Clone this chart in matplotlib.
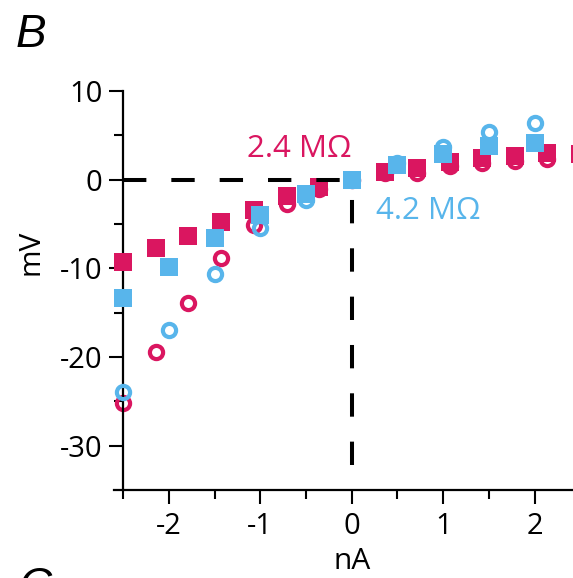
import numpy as np
import matplotlib.pyplot as plt
from matplotlib.transforms import blended_transform_factory

plt.rcParams['font.family'] = ['Open Sans', 'DejaVu Sans']
plt.rcParams['axes.unicode_minus'] = False

# current steps (nA)
x_mag = [-2.5, -2.14, -1.79, -1.43, -1.07, -0.71, -0.36, 0.0, 0.36, 0.71, 1.07, 1.43, 1.79, 2.14, 2.5]
x_blue = [-2.5, -2.0, -1.5, -1.0, -0.5, 0.0, 0.5, 1.0, 1.5, 2.0]

# voltage responses (mV)
mag_square = [-9.3, -7.75, -6.4, -4.8, -3.4, -1.8, -0.8, 0.0, 0.9, 1.35, 2.0, 2.5, 2.7, 3.0, 2.9]
mag_circle = [-25.2, -19.4, -13.9, -8.8, -5.1, -2.7, -1.0, 0.0, 0.7, 0.8, 1.5, 1.9, 2.1, 2.3, 2.5]
blue_square = [-13.4, -9.8, -6.55, -4.0, -1.6, 0.0, 1.7, 2.9, 3.85, 4.1]
blue_circle = [-24.0, -16.9, -10.6, -5.5, -2.3, 0.0, 1.9, 3.7, 5.4, 6.4]

labels = ["2.4 M\u03a9", "4.2 M\u03a9"]

magenta = '#DA1660'
blue = '#58B5EB'

fig = plt.figure(figsize=(5.73, 5.78), dpi=100)
ax = fig.add_axes([114 / 573, 1 - 490 / 578, 459 / 573, 399 / 578])

ax.plot(x_mag, mag_circle, 'o', ms=9.5, mfc='none', mec=magenta, mew=3.0, clip_on=False, zorder=2)
ax.plot(x_mag, mag_square, 's', ms=13.3, color=magenta, mew=0, clip_on=False, zorder=3)
ax.plot(x_blue, blue_circle, 'o', ms=9.5, mfc='none', mec=blue, mew=3.0, clip_on=False, zorder=4)
ax.plot(x_blue, blue_square, 's', ms=13.3, color=blue, mew=0, clip_on=False, zorder=5)

# dashed guides through the origin
ax.plot([-2.5, 0], [0, 0], color='black', lw=2.9, dashes=(5.8, 6.2), zorder=6)
ax.plot([0, 0], [-32.2, 0], color='black', lw=2.9, dashes=(5.8, 6.2), zorder=6)

ax.text(-1.15, 2.6, labels[0], color=magenta, fontsize=22.5, ha='left', va='baseline')
ax.text(0.27, -4.4, labels[1], color=blue, fontsize=22.5, ha='left', va='baseline')

ax.set_xlim(-2.6, 2.42)
ax.set_ylim(-35, 10)

ax.spines['top'].set_visible(False)
ax.spines['right'].set_visible(False)
ax.spines['left'].set_position(('data', -2.5))
for s in ['left', 'bottom']:
    ax.spines[s].set_linewidth(1.6)

ax.set_xticks([-2, -1, 0, 1, 2])
ax.set_xticks([-2.5, -1.5, -0.5, 0.5, 1.5], minor=True)
ax.set_yticks([-30, -20, -10, 0, 10])
ax.set_yticks([-25, -15, -5, 5], minor=True)
ax.tick_params(which='major', length=10, width=1.5, labelsize=21)
ax.tick_params(which='minor', length=6.5, width=1.5)
ax.tick_params(axis='x', pad=6)
ax.tick_params(axis='y', pad=5)

ax.set_xlabel('nA', fontsize=21.5, va='center')
ax.set_ylabel('mV', fontsize=21.5, va='center')
ax.xaxis.set_label_coords(0, -0.18, transform=blended_transform_factory(ax.transData, ax.transAxes))
ax.yaxis.set_label_coords(-0.18, 0.596)

fig.text(16 / 573, 1 - 13 / 578, 'B', fontsize=33, family='Liberation Sans', style='italic', va='top', ha='left')
fig.text(18 / 573, 1 - 566 / 578, 'C', fontsize=33, family='Liberation Sans', style='italic', va='top', ha='left')

plt.savefig('out.png', dpi=100)
